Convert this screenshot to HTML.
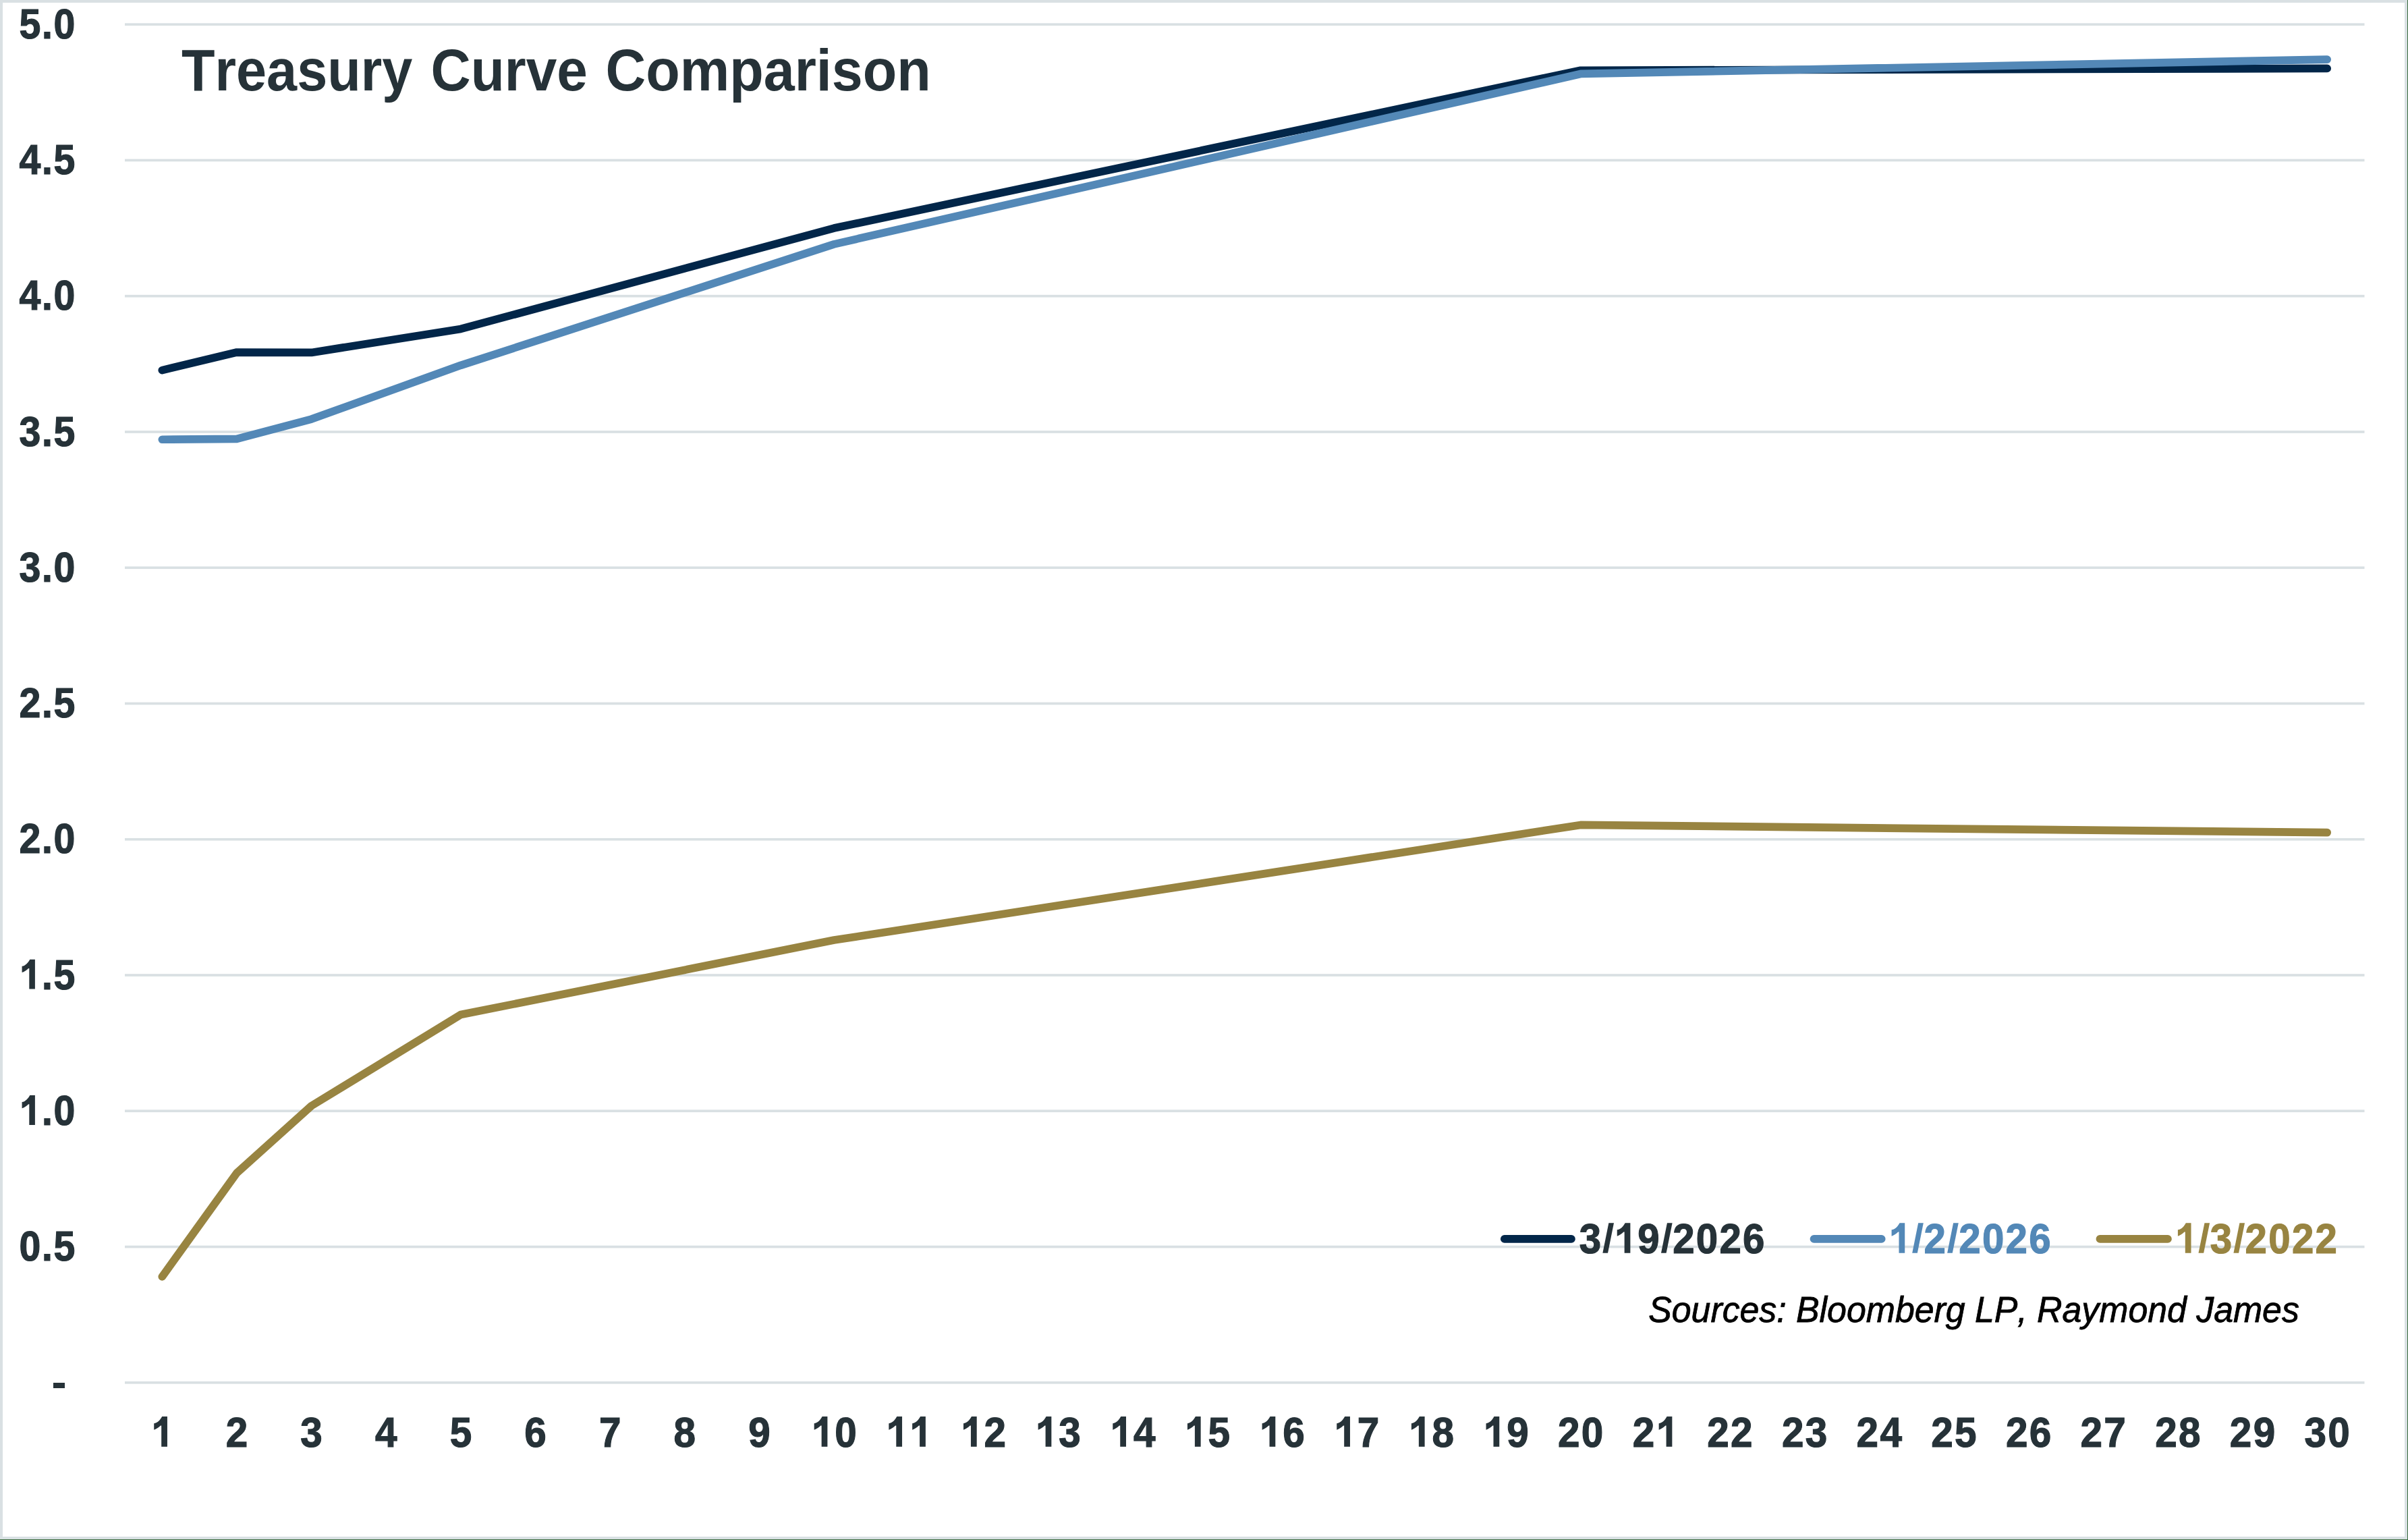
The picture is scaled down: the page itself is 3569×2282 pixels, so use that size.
<!DOCTYPE html>
<html><head><meta charset="utf-8"><style>
html,body{margin:0;padding:0;background:#fff;}
body{width:3569px;height:2282px;overflow:hidden;position:relative;}
svg{position:absolute;left:0;top:0;display:block;}
text{font-family:"Liberation Sans",sans-serif;font-kerning:none;}
</style></head><body>
<svg width="3569" height="2282" viewBox="0 0 3569 2282">
<rect x="0" y="0" width="3569" height="2282" fill="#3a6a3d"/>
<rect x="0" y="0" width="3568" height="2281" fill="#d9e0e3"/>
<rect x="4" y="4" width="3560" height="2273" fill="#ffffff"/>

<rect x="185" y="2046.95" width="3319.5" height="3.7" fill="#d9e0e3"/>
<rect x="185" y="1845.69" width="3319.5" height="3.7" fill="#d9e0e3"/>
<rect x="185" y="1644.43" width="3319.5" height="3.7" fill="#d9e0e3"/>
<rect x="185" y="1443.17" width="3319.5" height="3.7" fill="#d9e0e3"/>
<rect x="185" y="1241.91" width="3319.5" height="3.7" fill="#d9e0e3"/>
<rect x="185" y="1040.65" width="3319.5" height="3.7" fill="#d9e0e3"/>
<rect x="185" y="839.39" width="3319.5" height="3.7" fill="#d9e0e3"/>
<rect x="185" y="638.13" width="3319.5" height="3.7" fill="#d9e0e3"/>
<rect x="185" y="436.87" width="3319.5" height="3.7" fill="#d9e0e3"/>
<rect x="185" y="235.61" width="3319.5" height="3.7" fill="#d9e0e3"/>
<rect x="185" y="34.35" width="3319.5" height="3.7" fill="#d9e0e3"/>
<text transform="translate(28.49,1868.14) scale(0.9209,1)" x="0.00 36.42 55.53" y="0" font-size="62.20" font-weight="bold" fill="#263238" stroke="#263238" stroke-width="1.2" stroke-linejoin="miter">0.5</text>
<text transform="translate(28.49,1666.88) scale(0.9209,1)" x="0.00 36.42 55.53" y="0" font-size="62.20" font-weight="bold" fill="#263238" stroke="#263238" stroke-width="1.2" stroke-linejoin="miter"> .0</text>
<path transform="translate(27.37,1666.88) scale(61.313,-61.313)" d="M0.400,0 L0.400,0.716 L0.276,0.716 C0.235,0.64 0.17,0.56 0.085,0.553 L0.085,0.402 C0.13,0.415 0.20,0.46 0.240,0.501 L0.260,0.501 L0.260,0 Z" fill="#263238"/>
<text transform="translate(28.49,1465.62) scale(0.9209,1)" x="0.00 36.42 55.53" y="0" font-size="62.20" font-weight="bold" fill="#263238" stroke="#263238" stroke-width="1.2" stroke-linejoin="miter"> .5</text>
<path transform="translate(27.37,1465.62) scale(61.313,-61.313)" d="M0.400,0 L0.400,0.716 L0.276,0.716 C0.235,0.64 0.17,0.56 0.085,0.553 L0.085,0.402 C0.13,0.415 0.20,0.46 0.240,0.501 L0.260,0.501 L0.260,0 Z" fill="#263238"/>
<text transform="translate(28.49,1264.36) scale(0.9209,1)" x="0.00 36.42 55.53" y="0" font-size="62.20" font-weight="bold" fill="#263238" stroke="#263238" stroke-width="1.2" stroke-linejoin="miter">2.0</text>
<text transform="translate(28.49,1063.10) scale(0.9209,1)" x="0.00 36.42 55.53" y="0" font-size="62.20" font-weight="bold" fill="#263238" stroke="#263238" stroke-width="1.2" stroke-linejoin="miter">2.5</text>
<text transform="translate(28.49,861.84) scale(0.9209,1)" x="0.00 36.42 55.53" y="0" font-size="62.20" font-weight="bold" fill="#263238" stroke="#263238" stroke-width="1.2" stroke-linejoin="miter">3.0</text>
<text transform="translate(28.49,660.58) scale(0.9209,1)" x="0.00 36.42 55.53" y="0" font-size="62.20" font-weight="bold" fill="#263238" stroke="#263238" stroke-width="1.2" stroke-linejoin="miter">3.5</text>
<text transform="translate(28.49,459.32) scale(0.9209,1)" x="0.00 36.42 55.53" y="0" font-size="62.20" font-weight="bold" fill="#263238" stroke="#263238" stroke-width="1.2" stroke-linejoin="miter">4.0</text>
<text transform="translate(28.49,258.06) scale(0.9209,1)" x="0.00 36.42 55.53" y="0" font-size="62.20" font-weight="bold" fill="#263238" stroke="#263238" stroke-width="1.2" stroke-linejoin="miter">4.5</text>
<text transform="translate(28.49,56.80) scale(0.9209,1)" x="0.00 36.42 55.53" y="0" font-size="62.20" font-weight="bold" fill="#263238" stroke="#263238" stroke-width="1.2" stroke-linejoin="miter">5.0</text>
<rect x="79" y="2049" width="17" height="8" fill="#263238"/>
<text transform="translate(224.06,2143.80) scale(0.9212,1)" x="0.00" y="0" font-size="63.51" font-weight="bold" fill="#263238" stroke="#263238" stroke-width="1.2" stroke-linejoin="miter"> </text>
<path transform="translate(222.93,2143.80) scale(62.570,-62.570)" d="M0.400,0 L0.400,0.716 L0.276,0.716 C0.235,0.64 0.17,0.56 0.085,0.553 L0.085,0.402 C0.13,0.415 0.20,0.46 0.240,0.501 L0.260,0.501 L0.260,0 Z" fill="#263238"/>
<text transform="translate(334.71,2143.80) scale(0.9212,1)" x="0.00" y="0" font-size="63.51" font-weight="bold" fill="#263238" stroke="#263238" stroke-width="1.2" stroke-linejoin="miter">2</text>
<text transform="translate(445.36,2143.80) scale(0.9212,1)" x="0.00" y="0" font-size="63.51" font-weight="bold" fill="#263238" stroke="#263238" stroke-width="1.2" stroke-linejoin="miter">3</text>
<text transform="translate(556.01,2143.80) scale(0.9212,1)" x="0.00" y="0" font-size="63.51" font-weight="bold" fill="#263238" stroke="#263238" stroke-width="1.2" stroke-linejoin="miter">4</text>
<text transform="translate(666.66,2143.80) scale(0.9212,1)" x="0.00" y="0" font-size="63.51" font-weight="bold" fill="#263238" stroke="#263238" stroke-width="1.2" stroke-linejoin="miter">5</text>
<text transform="translate(777.31,2143.80) scale(0.9212,1)" x="0.00" y="0" font-size="63.51" font-weight="bold" fill="#263238" stroke="#263238" stroke-width="1.2" stroke-linejoin="miter">6</text>
<text transform="translate(887.96,2143.80) scale(0.9212,1)" x="0.00" y="0" font-size="63.51" font-weight="bold" fill="#263238" stroke="#263238" stroke-width="1.2" stroke-linejoin="miter">7</text>
<text transform="translate(998.61,2143.80) scale(0.9212,1)" x="0.00" y="0" font-size="63.51" font-weight="bold" fill="#263238" stroke="#263238" stroke-width="1.2" stroke-linejoin="miter">8</text>
<text transform="translate(1109.26,2143.80) scale(0.9212,1)" x="0.00" y="0" font-size="63.51" font-weight="bold" fill="#263238" stroke="#263238" stroke-width="1.2" stroke-linejoin="miter">9</text>
<text transform="translate(1202.51,2143.80) scale(0.9212,1)" x="0.00 37.78" y="0" font-size="63.51" font-weight="bold" fill="#263238" stroke="#263238" stroke-width="1.2" stroke-linejoin="miter"> 0</text>
<path transform="translate(1201.38,2143.80) scale(62.570,-62.570)" d="M0.400,0 L0.400,0.716 L0.276,0.716 C0.235,0.64 0.17,0.56 0.085,0.553 L0.085,0.402 C0.13,0.415 0.20,0.46 0.240,0.501 L0.260,0.501 L0.260,0 Z" fill="#263238"/>
<text transform="translate(1313.16,2143.80) scale(0.9212,1)" x="0.00 37.78" y="0" font-size="63.51" font-weight="bold" fill="#263238" stroke="#263238" stroke-width="1.2" stroke-linejoin="miter">  </text>
<path transform="translate(1312.03,2143.80) scale(62.570,-62.570)" d="M0.400,0 L0.400,0.716 L0.276,0.716 C0.235,0.64 0.17,0.56 0.085,0.553 L0.085,0.402 C0.13,0.415 0.20,0.46 0.240,0.501 L0.260,0.501 L0.260,0 Z" fill="#263238"/>
<path transform="translate(1346.83,2143.80) scale(62.570,-62.570)" d="M0.400,0 L0.400,0.716 L0.276,0.716 C0.235,0.64 0.17,0.56 0.085,0.553 L0.085,0.402 C0.13,0.415 0.20,0.46 0.240,0.501 L0.260,0.501 L0.260,0 Z" fill="#263238"/>
<text transform="translate(1423.81,2143.80) scale(0.9212,1)" x="0.00 37.78" y="0" font-size="63.51" font-weight="bold" fill="#263238" stroke="#263238" stroke-width="1.2" stroke-linejoin="miter"> 2</text>
<path transform="translate(1422.68,2143.80) scale(62.570,-62.570)" d="M0.400,0 L0.400,0.716 L0.276,0.716 C0.235,0.64 0.17,0.56 0.085,0.553 L0.085,0.402 C0.13,0.415 0.20,0.46 0.240,0.501 L0.260,0.501 L0.260,0 Z" fill="#263238"/>
<text transform="translate(1534.46,2143.80) scale(0.9212,1)" x="0.00 37.78" y="0" font-size="63.51" font-weight="bold" fill="#263238" stroke="#263238" stroke-width="1.2" stroke-linejoin="miter"> 3</text>
<path transform="translate(1533.33,2143.80) scale(62.570,-62.570)" d="M0.400,0 L0.400,0.716 L0.276,0.716 C0.235,0.64 0.17,0.56 0.085,0.553 L0.085,0.402 C0.13,0.415 0.20,0.46 0.240,0.501 L0.260,0.501 L0.260,0 Z" fill="#263238"/>
<text transform="translate(1645.11,2143.80) scale(0.9212,1)" x="0.00 37.78" y="0" font-size="63.51" font-weight="bold" fill="#263238" stroke="#263238" stroke-width="1.2" stroke-linejoin="miter"> 4</text>
<path transform="translate(1643.98,2143.80) scale(62.570,-62.570)" d="M0.400,0 L0.400,0.716 L0.276,0.716 C0.235,0.64 0.17,0.56 0.085,0.553 L0.085,0.402 C0.13,0.415 0.20,0.46 0.240,0.501 L0.260,0.501 L0.260,0 Z" fill="#263238"/>
<text transform="translate(1755.76,2143.80) scale(0.9212,1)" x="0.00 37.78" y="0" font-size="63.51" font-weight="bold" fill="#263238" stroke="#263238" stroke-width="1.2" stroke-linejoin="miter"> 5</text>
<path transform="translate(1754.63,2143.80) scale(62.570,-62.570)" d="M0.400,0 L0.400,0.716 L0.276,0.716 C0.235,0.64 0.17,0.56 0.085,0.553 L0.085,0.402 C0.13,0.415 0.20,0.46 0.240,0.501 L0.260,0.501 L0.260,0 Z" fill="#263238"/>
<text transform="translate(1866.41,2143.80) scale(0.9212,1)" x="0.00 37.78" y="0" font-size="63.51" font-weight="bold" fill="#263238" stroke="#263238" stroke-width="1.2" stroke-linejoin="miter"> 6</text>
<path transform="translate(1865.28,2143.80) scale(62.570,-62.570)" d="M0.400,0 L0.400,0.716 L0.276,0.716 C0.235,0.64 0.17,0.56 0.085,0.553 L0.085,0.402 C0.13,0.415 0.20,0.46 0.240,0.501 L0.260,0.501 L0.260,0 Z" fill="#263238"/>
<text transform="translate(1977.06,2143.80) scale(0.9212,1)" x="0.00 37.78" y="0" font-size="63.51" font-weight="bold" fill="#263238" stroke="#263238" stroke-width="1.2" stroke-linejoin="miter"> 7</text>
<path transform="translate(1975.93,2143.80) scale(62.570,-62.570)" d="M0.400,0 L0.400,0.716 L0.276,0.716 C0.235,0.64 0.17,0.56 0.085,0.553 L0.085,0.402 C0.13,0.415 0.20,0.46 0.240,0.501 L0.260,0.501 L0.260,0 Z" fill="#263238"/>
<text transform="translate(2087.71,2143.80) scale(0.9212,1)" x="0.00 37.78" y="0" font-size="63.51" font-weight="bold" fill="#263238" stroke="#263238" stroke-width="1.2" stroke-linejoin="miter"> 8</text>
<path transform="translate(2086.58,2143.80) scale(62.570,-62.570)" d="M0.400,0 L0.400,0.716 L0.276,0.716 C0.235,0.64 0.17,0.56 0.085,0.553 L0.085,0.402 C0.13,0.415 0.20,0.46 0.240,0.501 L0.260,0.501 L0.260,0 Z" fill="#263238"/>
<text transform="translate(2198.36,2143.80) scale(0.9212,1)" x="0.00 37.78" y="0" font-size="63.51" font-weight="bold" fill="#263238" stroke="#263238" stroke-width="1.2" stroke-linejoin="miter"> 9</text>
<path transform="translate(2197.23,2143.80) scale(62.570,-62.570)" d="M0.400,0 L0.400,0.716 L0.276,0.716 C0.235,0.64 0.17,0.56 0.085,0.553 L0.085,0.402 C0.13,0.415 0.20,0.46 0.240,0.501 L0.260,0.501 L0.260,0 Z" fill="#263238"/>
<text transform="translate(2309.01,2143.80) scale(0.9212,1)" x="0.00 37.78" y="0" font-size="63.51" font-weight="bold" fill="#263238" stroke="#263238" stroke-width="1.2" stroke-linejoin="miter">20</text>
<text transform="translate(2419.66,2143.80) scale(0.9212,1)" x="0.00 37.78" y="0" font-size="63.51" font-weight="bold" fill="#263238" stroke="#263238" stroke-width="1.2" stroke-linejoin="miter">2 </text>
<path transform="translate(2453.33,2143.80) scale(62.570,-62.570)" d="M0.400,0 L0.400,0.716 L0.276,0.716 C0.235,0.64 0.17,0.56 0.085,0.553 L0.085,0.402 C0.13,0.415 0.20,0.46 0.240,0.501 L0.260,0.501 L0.260,0 Z" fill="#263238"/>
<text transform="translate(2530.31,2143.80) scale(0.9212,1)" x="0.00 37.78" y="0" font-size="63.51" font-weight="bold" fill="#263238" stroke="#263238" stroke-width="1.2" stroke-linejoin="miter">22</text>
<text transform="translate(2640.96,2143.80) scale(0.9212,1)" x="0.00 37.78" y="0" font-size="63.51" font-weight="bold" fill="#263238" stroke="#263238" stroke-width="1.2" stroke-linejoin="miter">23</text>
<text transform="translate(2751.61,2143.80) scale(0.9212,1)" x="0.00 37.78" y="0" font-size="63.51" font-weight="bold" fill="#263238" stroke="#263238" stroke-width="1.2" stroke-linejoin="miter">24</text>
<text transform="translate(2862.26,2143.80) scale(0.9212,1)" x="0.00 37.78" y="0" font-size="63.51" font-weight="bold" fill="#263238" stroke="#263238" stroke-width="1.2" stroke-linejoin="miter">25</text>
<text transform="translate(2972.91,2143.80) scale(0.9212,1)" x="0.00 37.78" y="0" font-size="63.51" font-weight="bold" fill="#263238" stroke="#263238" stroke-width="1.2" stroke-linejoin="miter">26</text>
<text transform="translate(3083.56,2143.80) scale(0.9212,1)" x="0.00 37.78" y="0" font-size="63.51" font-weight="bold" fill="#263238" stroke="#263238" stroke-width="1.2" stroke-linejoin="miter">27</text>
<text transform="translate(3194.21,2143.80) scale(0.9212,1)" x="0.00 37.78" y="0" font-size="63.51" font-weight="bold" fill="#263238" stroke="#263238" stroke-width="1.2" stroke-linejoin="miter">28</text>
<text transform="translate(3304.86,2143.80) scale(0.9212,1)" x="0.00 37.78" y="0" font-size="63.51" font-weight="bold" fill="#263238" stroke="#263238" stroke-width="1.2" stroke-linejoin="miter">29</text>
<text transform="translate(3415.51,2143.80) scale(0.9212,1)" x="0.00 37.78" y="0" font-size="63.51" font-weight="bold" fill="#263238" stroke="#263238" stroke-width="1.2" stroke-linejoin="miter">30</text>
<text transform="translate(268.99,133.90) scale(0.9307,1)" x="0" y="0" font-size="87.10" font-weight="bold" font-style="normal" text-anchor="start" fill="#263238" >Treasury</text>
<text transform="translate(638.44,133.90) scale(0.9414,1)" x="0" y="0" font-size="87.10" font-weight="bold" font-style="normal" text-anchor="start" fill="#263238" >Curve</text>
<text transform="translate(897.41,133.90) scale(0.9496,1)" x="0" y="0" font-size="87.10" font-weight="bold" font-style="normal" text-anchor="start" fill="#263238" >Comparison</text>
<path d="M240.32,548.61 L350.98,522.04 L461.62,522.44 L682.92,487.42 L1236.17,338.09 L2342.68,104.23 L3449.18,101.41" fill="none" stroke="#022649" stroke-width="11.7" stroke-linecap="round" stroke-linejoin="round"/>
<path d="M240.32,651.25 L350.98,650.45 L461.62,621.06 L682.92,541.36 L1236.17,361.84 L2342.68,109.46 L3449.18,88.13" fill="none" stroke="#5388b7" stroke-width="11.7" stroke-linecap="round" stroke-linejoin="round"/>
<path d="M240.32,1891.82 L350.98,1738.05 L461.62,1638.63 L682.92,1503.59 L1236.17,1393.09 L2342.68,1222.43 L3449.18,1233.70" fill="none" stroke="#988441" stroke-width="11.7" stroke-linecap="round" stroke-linejoin="round"/>
<line x1="2229.8" y1="1835.9" x2="2329" y2="1835.9" stroke="#022649" stroke-width="11.7" stroke-linecap="round"/>
<text transform="translate(2340.63,1856.80) scale(0.9211,1)" x="0.00 37.00 56.40 94.01 131.00 150.40 188.01 225.62 263.23" y="0" font-size="63.22" font-weight="bold" fill="#263238" stroke="#263238" stroke-width="1.2" stroke-linejoin="miter">3  9 2026</text>
<path transform="translate(2374.14,1856.80) scale(62.291,-62.291)" d="M0.020,0 L0.1427,0 L0.2867,0.716 L0.164,0.716 Z" fill="#263238"/>
<path transform="translate(2391.45,1856.80) scale(62.291,-62.291)" d="M0.400,0 L0.400,0.716 L0.276,0.716 C0.235,0.64 0.17,0.56 0.085,0.553 L0.085,0.402 C0.13,0.415 0.20,0.46 0.240,0.501 L0.260,0.501 L0.260,0 Z" fill="#263238"/>
<path transform="translate(2460.74,1856.80) scale(62.291,-62.291)" d="M0.020,0 L0.1427,0 L0.2867,0.716 L0.164,0.716 Z" fill="#263238"/>
<line x1="2688.5" y1="1835.9" x2="2788.7" y2="1835.9" stroke="#5388b7" stroke-width="11.7" stroke-linecap="round"/>
<text transform="translate(2799.43,1856.80) scale(0.9211,1)" x="0.00 37.00 56.40 93.39 112.79 150.40 188.01 225.62" y="0" font-size="63.22" font-weight="bold" fill="#5388b7" stroke="#5388b7" stroke-width="1.2" stroke-linejoin="miter">  2 2026</text>
<path transform="translate(2798.30,1856.80) scale(62.291,-62.291)" d="M0.400,0 L0.400,0.716 L0.276,0.716 C0.235,0.64 0.17,0.56 0.085,0.553 L0.085,0.402 C0.13,0.415 0.20,0.46 0.240,0.501 L0.260,0.501 L0.260,0 Z" fill="#5388b7"/>
<path transform="translate(2832.94,1856.80) scale(62.291,-62.291)" d="M0.020,0 L0.1427,0 L0.2867,0.716 L0.164,0.716 Z" fill="#5388b7"/>
<path transform="translate(2884.89,1856.80) scale(62.291,-62.291)" d="M0.020,0 L0.1427,0 L0.2867,0.716 L0.164,0.716 Z" fill="#5388b7"/>
<line x1="3112.4" y1="1835.9" x2="3213" y2="1835.9" stroke="#988441" stroke-width="11.7" stroke-linecap="round"/>
<text transform="translate(3223.73,1856.80) scale(0.9211,1)" x="0.00 37.00 56.40 93.39 112.79 150.40 188.01 225.62" y="0" font-size="63.22" font-weight="bold" fill="#988441" stroke="#988441" stroke-width="1.2" stroke-linejoin="miter">  3 2022</text>
<path transform="translate(3222.60,1856.80) scale(62.291,-62.291)" d="M0.400,0 L0.400,0.716 L0.276,0.716 C0.235,0.64 0.17,0.56 0.085,0.553 L0.085,0.402 C0.13,0.415 0.20,0.46 0.240,0.501 L0.260,0.501 L0.260,0 Z" fill="#988441"/>
<path transform="translate(3257.24,1856.80) scale(62.291,-62.291)" d="M0.020,0 L0.1427,0 L0.2867,0.716 L0.164,0.716 Z" fill="#988441"/>
<path transform="translate(3309.19,1856.80) scale(62.291,-62.291)" d="M0.020,0 L0.1427,0 L0.2867,0.716 L0.164,0.716 Z" fill="#988441"/>
<text transform="translate(2443.20,1958.80) scale(0.9668,1)" x="0" y="0" font-size="53.60" font-weight="normal" font-style="italic" text-anchor="start" fill="#000000" stroke="#000" stroke-width="0.8">Sources: Bloomberg LP, Raymond James</text>
</svg></body></html>
